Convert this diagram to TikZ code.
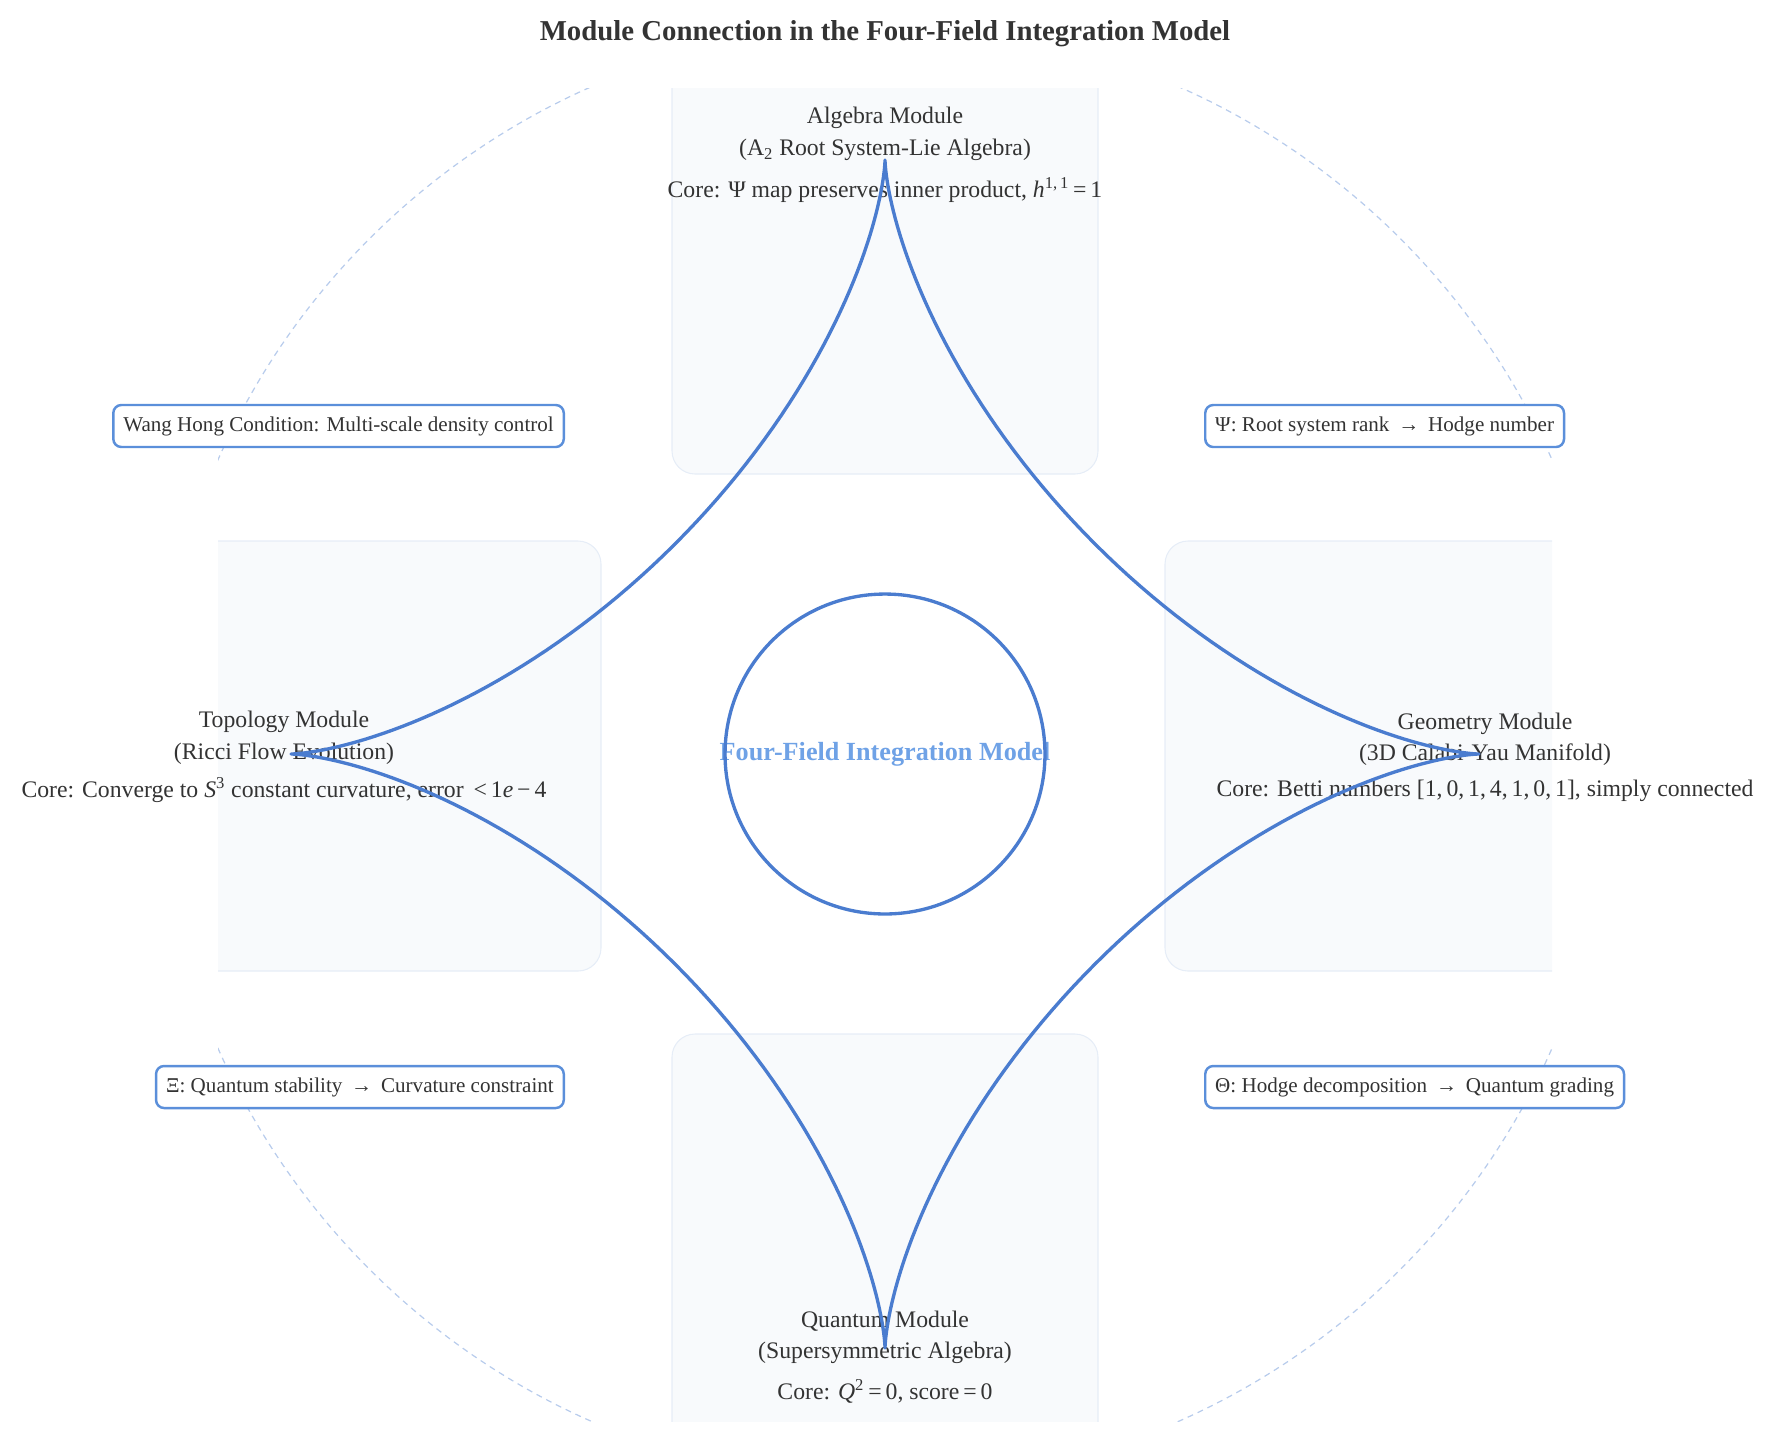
\documentclass[tikz,border=0pt]{standalone}
\usepackage{fontspec}
\setmainfont{Liberation Serif}
\usepackage{xcolor}
\usetikzlibrary{positioning}
\definecolor{curveBlue}{HTML}{4A7CCF}
\definecolor{linkBlue}{HTML}{5B8FDA}
\definecolor{ringBlue}{HTML}{B8CCEC}
\definecolor{panelFill}{HTML}{F8FAFC}
\definecolor{panelEdge}{HTML}{E6EDF7}
\definecolor{textGray}{HTML}{333333}
\definecolor{hubBlue}{HTML}{6FA2E6}
\tikzstyle{panel} = [rounded corners=0.46cm, fill=panelFill, draw=panelEdge, line width=0.6pt]
\tikzstyle{modtext} = [align=center, text=textGray, inner sep=0pt,
  font=\fontsize{13.5}{18}\selectfont]
\tikzstyle{linkbox} = [draw=linkBlue, fill=white, line width=1.4pt, rounded corners=0.16cm,
  text=textGray, font=\fontsize{12}{14}\selectfont, minimum height=0.84cm, inner xsep=0.2cm]
\tikzstyle{curve} = [draw=curveBlue, line width=1.9pt, line join=round]

\begin{document}
\begin{tikzpicture}[x=0.02cm, y=-0.02cm]
  \useasboundingbox (0,0) rectangle (1773,1451);

  % Title
  \node[font=\fontsize{16.4}{20}\selectfont\bfseries, text=textGray] (title) at (885,34)
    {Module Connection in the Four-Field Integration Model};

  % Module panels and outer ring
  \begin{scope}
    \clip (218,88) rectangle (1552,1421);
    \foreach \px/\py in {672/44, 672/1034, 175/541, 1165/541} {
      \draw[panel] (\px,\py) rectangle ++(426,430);
    }
    \draw[ringBlue, line width=0.7pt, dash pattern=on 3.4pt off 2.8pt] (885,754) circle (14.58cm);
  \end{scope}

  % Module texts
  \node[modtext] (alg) at (885,155) {Algebra Module\\(A\textsubscript{2} Root System-Lie Algebra)\\[6pt]Core: Ψ map preserves inner product, \textit{h}\textsuperscript{1,\,1}\,=\,1};
  \node[modtext] (topo) at (284,757) {Topology Module\\(Ricci Flow Evolution)\\[4pt]Core: Converge to \textit{S}\textsuperscript{3} constant curvature, error \,<\,1\textit{e}\,−\,4};
  \node[modtext] (geo) at (1485,757) {Geometry Module\\(3D Calabi-Yau Manifold)\\[2pt]Core: Betti numbers [1,\,0,\,1,\,4,\,1,\,0,\,1], simply connected};
  \node[modtext] (quant) at (885,1357) {Quantum Module\\(Supersymmetric Algebra)\\[5pt]Core: \textit{Q}\textsuperscript{2}\,=\,0, score\,=\,0};

  % Connection labels
  \node[linkbox, anchor=east] (wang) at (565,426) {Wang Hong Condition: Multi-scale density control};
  \node[linkbox, anchor=west] (psi) at (1204,426) {Ψ: Root system rank \,→\, Hodge number};
  \node[linkbox, anchor=east] (xi) at (565,1087) {Ξ: Quantum stability \,→\, Curvature constraint};
  \node[linkbox, anchor=west] (theta) at (1204,1087) {Θ: Hodge decomposition \,→\, Quantum grading};

  % Hub
  \node[font=\fontsize{14.9}{18}\selectfont\bfseries, text=hubBlue] (hub) at (885,754) {Four-Field Integration Model};
  \draw[curve] (hub.center) circle (3.2cm);

  % Four-cusp connection curve
  \draw[curve] plot[domain=0:360, samples=361]
    ({885+594*cos(\x)*cos(\x)*cos(\x)}, {754+594*sin(\x)*sin(\x)*sin(\x)}) -- cycle;
\end{tikzpicture}
\end{document}
